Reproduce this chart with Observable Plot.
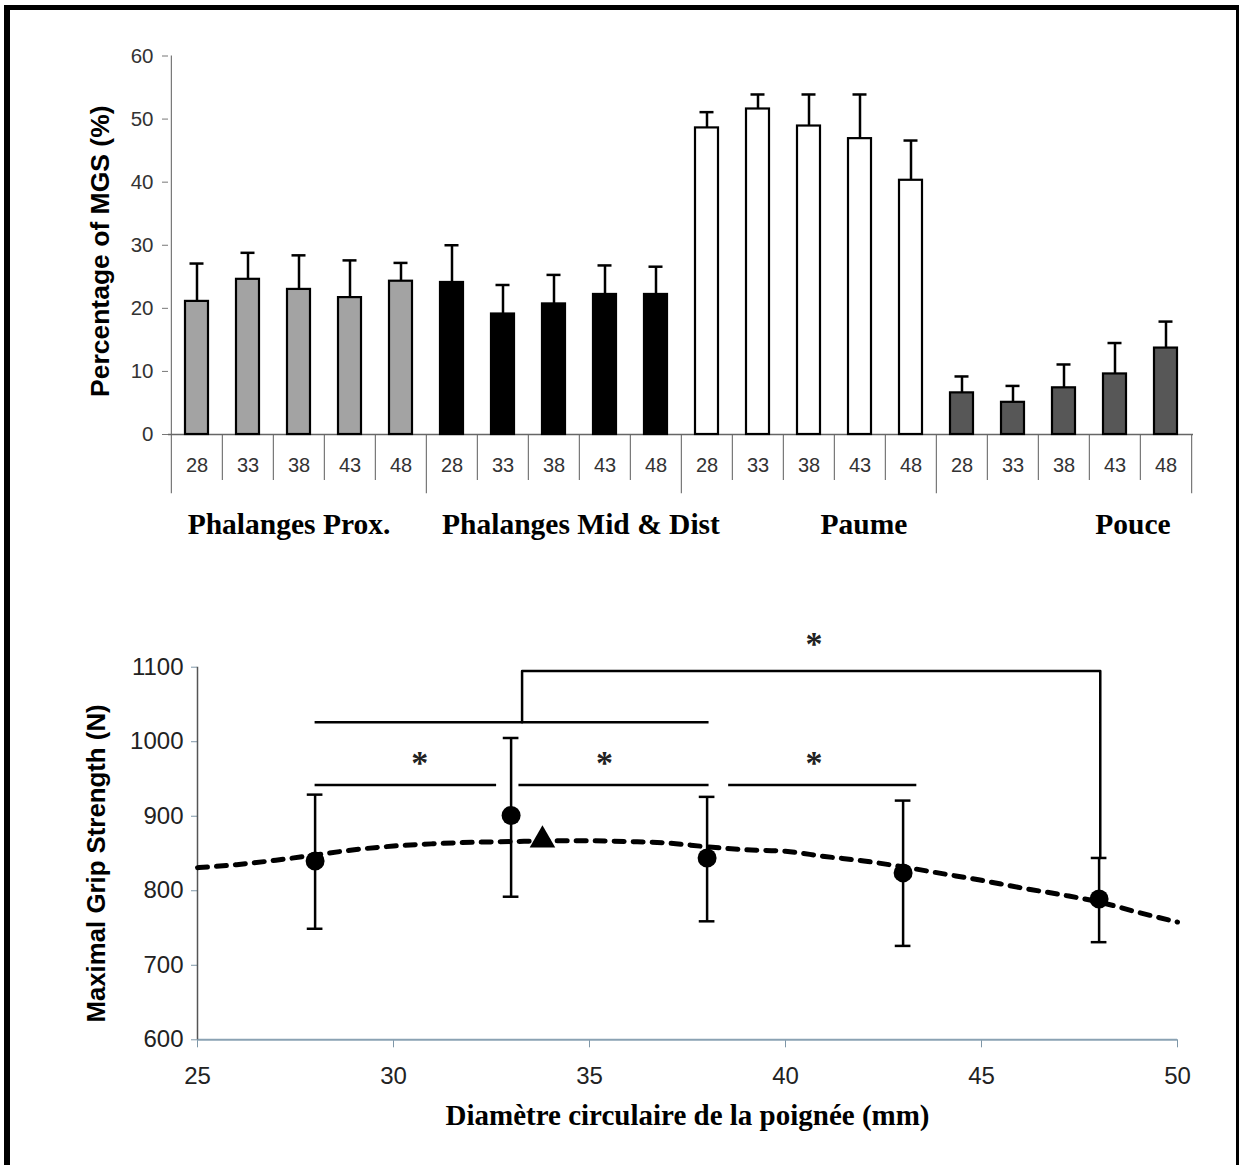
<!DOCTYPE html>
<html>
<head>
<meta charset="utf-8">
<script src="https://cdn.jsdelivr.net/npm/d3@7"></script>
<script src="https://cdn.jsdelivr.net/npm/@observablehq/plot@0.6"></script>
<style>
html, body { margin: 0; padding: 0; background: #fff; }
#wrap { position: relative; width: 1239px; height: 1165px; overflow: hidden; background: #fff; }
#topChart, #bottomChart { position: absolute; left: 0; }
#topChart { top: 0; }
#bottomChart { top: 590px; }
#frame { position: absolute; left: 4px; top: 5px; width: 1226px; height: 1200px;
  border-left: 6px solid #000; border-top: 5px solid #000; border-right: 3px solid #000; pointer-events: none; }
svg { overflow: visible; }
</style>
</head>
<body>
<div id="wrap">
  <div id="topChart"></div>
  <div id="bottomChart"></div>
  <div id="frame"></div>
</div>
<script>
// ---------- Top chart data ----------
const groups = ["Phalanges Prox.", "Phalanges Mid & Dist", "Paume", "Pouce"];
const sizes = ["28", "33", "38", "43", "48"];
const proxMean = [21.1, 24.6, 23.0, 21.7, 24.3];
const proxSD   = [6.0, 4.2, 5.4, 5.9, 2.9];
const midMean  = [24.1, 19.1, 20.7, 22.2, 22.2];
const midSD    = [5.9, 4.6, 4.6, 4.6, 4.4];
const paumeMean = [48.6, 51.6, 48.9, 46.9, 40.3];
const paumeSD   = [2.5, 2.3, 5.0, 7.0, 6.3];
const pouceMean = [6.6, 5.1, 7.4, 9.6, 13.7];
const pouceSD   = [2.6, 2.6, 3.7, 4.9, 4.2];
const groupFills = ["#a3a3a3", "#000000", "#ffffff", "#575757"];
const yTicksTop = [0, 10, 20, 30, 40, 50, 60];

// ---------- Bottom chart data ----------
const diam = [28, 33, 38, 43, 48];
const mgsMean = [840, 901, 844, 824, 789];
const mgsLow  = [749, 792, 759, 726, 731];
const mgsHigh = [929, 1005, 926, 921, 844];
const triX = [33.8];
const triY = [868];
const fitX = [25, 26, 27, 28, 29, 30, 31, 32, 33, 34, 35, 36, 37, 38, 39, 40, 41, 42, 43, 44, 45, 46, 47, 48, 49, 50];
const fitY = [831, 835, 841, 848, 855, 860, 863, 865, 866, 867, 867, 866, 864, 859, 855, 853, 846, 840, 832, 823, 814, 804, 795, 785, 771, 758];
const sigX1 = [28, 33.2, 38.55, 28];
const sigX2 = [32.63, 38.05, 43.35, 38.05];
const sigY  = [942, 942, 942, 1026];
const bigBracketX = [33.28, 33.28, 48.03, 48.03];
const bigBracketY = [1026, 1095, 1095, 844];
const starX = [30.67, 35.38, 40.73, 40.73];
const starY = [976, 976, 976, 1136];
const xTicksBottom = [25, 30, 35, 40, 45, 50];
const yTicksBottom = [600, 700, 800, 900, 1000, 1100];

// ---------- Build top chart ----------
const means = [proxMean, midMean, paumeMean, pouceMean];
const sds = [proxSD, midSD, paumeSD, pouceSD];
const rows = [];
groups.forEach((g, gi) => sizes.forEach((s, si) => rows.push({
  key: g + "|" + s, group: g, gi, size: s, mean: means[gi][si], sd: sds[gi][si]
})));
const keys = rows.map(d => d.key);
const half = 1025 / 20 / 2;
const labelOffsets = [-10, 27, 55, 69];
const serif = "'Liberation Serif', 'Times New Roman', serif";

const topPlot = Plot.plot({
  width: 1239, height: 560,
  marginLeft: 168, marginRight: 46, marginTop: 55.5, marginBottom: 126,
  style: {fontFamily: "'Liberation Sans', Arial, sans-serif", background: "transparent", color: "#000"},
  x: {domain: keys, paddingInner: 0.55, paddingOuter: 0.275, axis: null},
  y: {domain: [0, 60], axis: null},
  marks: [
    Plot.axisY({ticks: yTicksTop, tickSize: 6, tickPadding: 9, fontSize: 20.5, label: null, stroke: "#777", fill: "#333"}),
    Plot.ruleX([keys[0]], {x: d => d, dx: -half, y1: 60, y2: -9.4, stroke: "#777", strokeWidth: 1.2}),
    Plot.ruleX(rows.filter((d, i) => i > 0), {x: "key", dx: -half, y1: 0, y2: d => d.size === "28" ? -9.4 : -7.3, stroke: "#777", strokeWidth: 1.2}),
    Plot.ruleX([keys[keys.length - 1]], {x: d => d, dx: half, y1: 0, y2: -9.4, stroke: "#777", strokeWidth: 1.2}),
    Plot.ruleY([0], {stroke: "#666", strokeWidth: 1.3}),
    Plot.ruleX(rows, {x: "key", y1: "mean", y2: d => d.mean + d.sd, stroke: "#000", strokeWidth: 2.5}),
    Plot.tickY(rows, {x: "key", y: d => d.mean + d.sd, stroke: "#000", strokeWidth: 2.5, insetLeft: 4.5, insetRight: 4.5}),
    Plot.barY(rows, {x: "key", y: "mean", fill: d => groupFills[d.gi], stroke: "#000", strokeWidth: 2.2}),
    Plot.text(rows, {x: "key", y: -4.9, text: "size", fontSize: 20, fill: "#333"}),
    ...groups.map((g, gi) => Plot.text([g], {x: () => g + "|38", y: -14.2, dx: labelOffsets[gi], text: d => d,
      fontSize: 29.5, fontWeight: "bold", fontFamily: serif, fill: "#000"})),
    Plot.text(["Percentage of MGS (%)"], {frameAnchor: "left", textAnchor: "middle", dx: -68, dy: 6, rotate: -90,
      fontSize: 26.5, fontWeight: "bold", fill: "#000"})
  ]
});
document.getElementById("topChart").appendChild(topPlot);

// ---------- Build bottom chart ----------
const pts = diam.map((x, i) => ({x, m: mgsMean[i], lo: mgsLow[i], hi: mgsHigh[i]}));
const fit = fitX.map((x, i) => ({x, y: fitY[i]}));
const sig = sigX1.map((x1, i) => ({x1, x2: sigX2[i], y: sigY[i]}));
const big = bigBracketX.map((x, i) => ({x, y: bigBracketY[i]}));
const stars = starX.map((x, i) => ({x, y: starY[i]}));
const tri = triX.map((x, i) => ({x, y: triY[i]}));
const capHalf = 0.2;

const bottomPlot = Plot.plot({
  width: 1239, height: 570,
  marginLeft: 197, marginRight: 62, marginTop: 76.7, marginBottom: 120.7,
  style: {fontFamily: "'Liberation Sans', Arial, sans-serif", background: "transparent", color: "#000"},
  x: {domain: [25, 50], axis: null},
  y: {domain: [600, 1100], axis: null},
  marks: [
    Plot.axisY({ticks: yTicksBottom, tickFormat: d => String(d), tickSize: 6, tickPadding: 8, fontSize: 24, label: null, stroke: "#7f97a8", fill: "#222"}),
    Plot.axisX({ticks: xTicksBottom, tickFormat: d => String(d), tickSize: 8, tickPadding: 19, fontSize: 24, label: null, stroke: "#7f97a8", fill: "#222"}),
    Plot.ruleY([600], {stroke: "#8aa2b3", strokeWidth: 2}),
    Plot.ruleX([25], {stroke: "#555", strokeWidth: 1.5}),
    Plot.line(fit, {x: "x", y: "y", curve: "monotone-x", stroke: "#000", strokeWidth: 5, strokeDasharray: "10,9"}),
    Plot.ruleX(pts, {x: "x", y1: "lo", y2: "hi", stroke: "#000", strokeWidth: 2.5}),
    Plot.ruleY(pts, {y: "lo", x1: d => d.x - capHalf, x2: d => d.x + capHalf, stroke: "#000", strokeWidth: 2.5}),
    Plot.ruleY(pts, {y: "hi", x1: d => d.x - capHalf, x2: d => d.x + capHalf, stroke: "#000", strokeWidth: 2.5}),
    Plot.dot(pts, {x: "x", y: "m", r: 9.5, fill: "#000", stroke: null}),
    Plot.dot(tri, {x: "x", y: "y", r: 9.5, symbol: "triangle", fill: "#000", stroke: null}),
    Plot.ruleY(sig, {x1: "x1", x2: "x2", y: "y", stroke: "#000", strokeWidth: 2.5}),
    Plot.line(big, {x: "x", y: "y", stroke: "#000", strokeWidth: 2.5, curve: "linear"}),
    Plot.text(stars, {x: "x", y: "y", text: d => "*", fontSize: 34, fontWeight: "bold", fontFamily: serif, dy: 4, fill: "#222"}),
    Plot.text(["Maximal Grip Strength (N)"], {frameAnchor: "left", textAnchor: "middle", dx: -101, dy: 10, rotate: -90,
      fontSize: 25.8, fontWeight: "bold", fill: "#000"}),
    Plot.text(["Diamètre circulaire de la poignée (mm)"], {frameAnchor: "bottom", dy: 85, fontSize: 29, fontWeight: "bold",
      fontFamily: serif, fill: "#000"})
  ]
});
document.getElementById("bottomChart").appendChild(bottomPlot);
</script>
</body>
</html>
